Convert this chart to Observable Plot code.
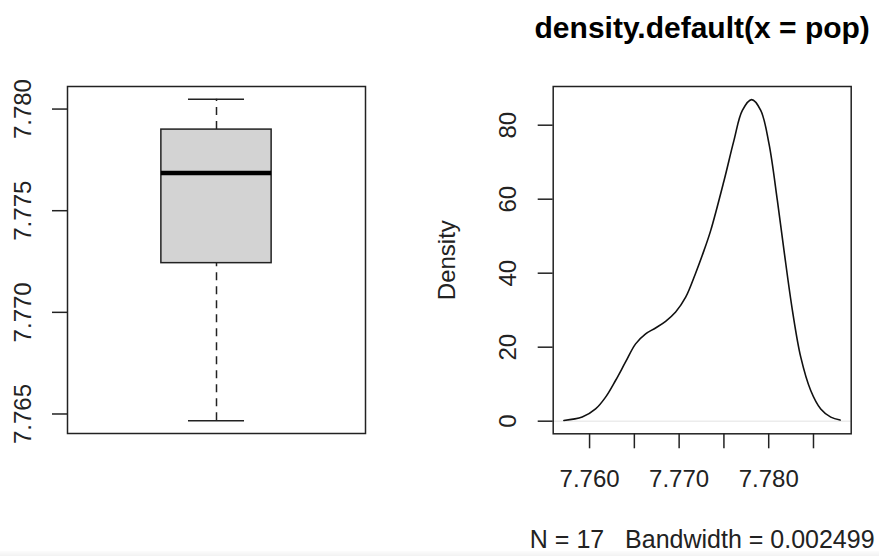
<!DOCTYPE html>
<html>
<head>
<meta charset="utf-8">
<script src="https://cdn.jsdelivr.net/npm/d3@7"></script>
<script src="https://cdn.jsdelivr.net/npm/@observablehq/plot@0.6"></script>
<style>
  html, body { margin: 0; padding: 0; background: #ffffff; }
  #wrap { position: relative; width: 879px; height: 556px; overflow: hidden; background: #ffffff; font-family: "Liberation Sans", Arial, Helvetica, sans-serif; }
  #wrap svg { position: absolute; top: 0; background: transparent; overflow: visible; }
  #strip { position: absolute; left: 0; top: 551px; width: 879px; height: 5px; background: linear-gradient(#fcfcfc, #f2f2f2); }
</style>
</head>
<body>
<div id="wrap"><div id="strip"></div></div>
<script>
// ---- Boxplot (left) ----
const boxStatNames = ["lowerWhisker", "q1", "median", "q3", "upperWhisker"];
const boxStatValues = [7.76467, 7.77242, 7.77685, 7.77899, 7.78048];
const boxYTicks = [7.765, 7.770, 7.775, 7.780];
const boxYTickLabels = ["7.765", "7.770", "7.775", "7.780"];

// ---- Density (right) ----
const densX = [7.75713, 7.75918, 7.76067, 7.76179, 7.76290, 7.76402, 7.76514, 7.76626, 7.76737, 7.76849,
               7.76961, 7.77073, 7.77184, 7.77277, 7.77352, 7.77501, 7.77612, 7.77706, 7.77810, 7.77911,
               7.78003, 7.78097, 7.78171, 7.78265, 7.78358, 7.78469, 7.78581, 7.78693, 7.78797];
const densY = [0.2, 1.1, 3.3, 6.5, 11.0, 16.0, 20.9, 23.6, 25.2, 27.0,
               29.5, 33.5, 40.0, 46.1, 51.5, 65.0, 75.9, 84.0, 86.9, 84.0,
               75.0, 59.6, 46.1, 29.9, 17.3, 8.3, 3.3, 1.1, 0.3];
const densYTicks = [0, 20, 40, 60, 80];
const densYTickLabels = ["0", "20", "40", "60", "80"];
const densXTicks = [7.760, 7.765, 7.770, 7.775, 7.780, 7.785];
const densXTickLabels = ["7.760", "", "7.770", "", "7.780", ""];
const titleText = "density.default(x = pop)";
const subText = "N = 17   Bandwidth = 0.002499";
const yLabelText = "Density";

const FONT = "Liberation Sans, Arial, Helvetica, sans-serif";
const stats = Object.fromEntries(boxStatNames.map((k, i) => [k, boxStatValues[i]]));
const boxRow = [stats];
const boxHalf = 0.185, capHalf = 0.094;

const left = Plot.plot({
  width: 440, height: 556,
  marginLeft: 67, marginRight: 75, marginTop: 86, marginBottom: 123,
  style: {fontFamily: FONT, background: "transparent", color: "black"},
  x: {domain: [0, 1], axis: null},
  y: {domain: [7.76404, 7.78111], axis: null},
  marks: [
    Plot.ruleX(boxRow, {x: 0.5, y1: "q3", y2: "upperWhisker", stroke: "#222", strokeWidth: 1.5, strokeDasharray: "8,6"}),
    Plot.ruleX(boxRow, {x: 0.5, y1: "lowerWhisker", y2: "q1", stroke: "#222", strokeWidth: 1.5, strokeDasharray: "8,6"}),
    Plot.ruleY(boxRow, {y: "upperWhisker", x1: 0.5 - capHalf, x2: 0.5 + capHalf, stroke: "#222", strokeWidth: 1.5}),
    Plot.ruleY(boxRow, {y: "lowerWhisker", x1: 0.5 - capHalf, x2: 0.5 + capHalf, stroke: "#222", strokeWidth: 1.5}),
    Plot.rect(boxRow, {x1: 0.5 - boxHalf, x2: 0.5 + boxHalf, y1: "q1", y2: "q3", fill: "#d3d3d3", stroke: "#222", strokeWidth: 1.5}),
    Plot.ruleY(boxRow, {y: "median", x1: 0.5 - boxHalf, x2: 0.5 + boxHalf, stroke: "black", strokeWidth: 4.5}),
    Plot.frame({stroke: "#222", strokeWidth: 1.5}),
    Plot.axisY({ticks: boxYTicks, tickSize: 15, tickFormat: () => "", label: null, strokeWidth: 1.5, stroke: "#222"}),
    Plot.text(boxYTicks, {y: d => d, text: (d, i) => boxYTickLabels[i], frameAnchor: "left", dx: -44, rotate: -90, fontSize: 24, fill: "#222", textAnchor: "middle"})
  ]
});
left.style.left = "0px";
document.getElementById("wrap").appendChild(left);

const densData = densX.map((x, i) => ({x, y: densY[i]}));
const right = Plot.plot({
  width: 439, height: 556,
  marginLeft: 112.7, marginRight: 28.3, marginTop: 86, marginBottom: 122.7,
  style: {fontFamily: FONT, background: "transparent", color: "black"},
  x: {domain: [7.75594, 7.78921], axis: null},
  y: {domain: [-3.41, 90.46], axis: null},
  marks: [
    Plot.ruleY([0], {stroke: "#ececec", strokeWidth: 1.5}),
    Plot.line(densData, {x: "x", y: "y", stroke: "#111", strokeWidth: 1.6, curve: "catmull-rom"}),
    Plot.frame({stroke: "#222", strokeWidth: 1.5}),
    Plot.axisY({ticks: densYTicks, tickSize: 15, tickFormat: () => "", label: null, strokeWidth: 1.5, stroke: "#222"}),
    Plot.text(densYTicks, {y: d => d, text: (d, i) => densYTickLabels[i], frameAnchor: "left", dx: -45, rotate: -90, fontSize: 24, fill: "#222", textAnchor: "middle"}),
    Plot.axisX({ticks: densXTicks, tickSize: 15, tickPadding: 21, tickFormat: (d, i) => densXTickLabels[i], label: null, fontSize: 24, strokeWidth: 1.5, stroke: "#222", fill: "#222"}),
    Plot.text([yLabelText], {text: d => d, frameAnchor: "left", dx: -105.7, rotate: -90, fontSize: 24, fill: "#222", textAnchor: "middle"}),
    Plot.text([titleText], {text: d => d, frameAnchor: "top", dy: -70, fontSize: 30, fontWeight: "bold", fill: "black", textAnchor: "middle"}),
    Plot.text([subText], {text: d => d, frameAnchor: "bottom", dy: 114, fontSize: 25, fill: "#222", textAnchor: "middle"})
  ]
});
right.style.left = "440px";
right.querySelectorAll("text").forEach(t => { t.setAttribute("xml:space", "preserve"); t.style.whiteSpace = "pre"; });
document.getElementById("wrap").appendChild(right);
</script>
</body>
</html>
